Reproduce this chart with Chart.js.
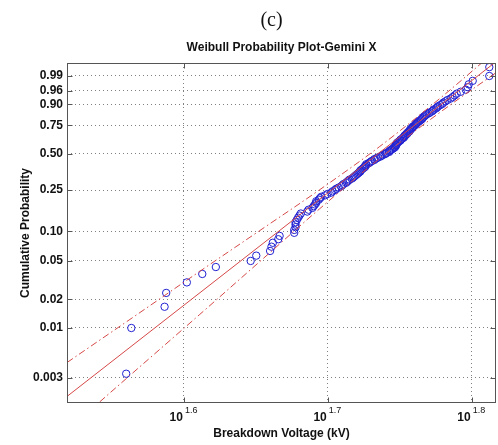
<!DOCTYPE html>
<html>
<head>
<meta charset="utf-8">
<script src="https://cdn.jsdelivr.net/npm/chart.js@4.4.0/dist/chart.umd.min.js"></script>
<style>
  html, body { margin: 0; padding: 0; background: #fff; }
</style>
</head>
<body>
<canvas id="wbl" width="498" height="445"></canvas>
<script>
// Weibull probability plot - breakdown voltages (kV), ranked, with plotting positions
const voltageKV = [
  36.3, 36.6, 38.6, 38.7, 40.0, 41.0, 41.9, 44.3, 44.7, 45.7,
  45.8, 45.9, 46.3, 46.4, 47.5, 47.5, 47.6, 47.6, 47.6, 47.7,
  47.8, 47.9, 48.0, 48.5, 48.6, 48.9, 49.0, 49.1, 49.2, 49.2,
  49.4, 49.5, 49.6, 49.9, 50.1, 50.4, 50.5, 50.7, 50.8, 51.0,
  51.2, 51.3, 51.4, 51.6, 51.7, 51.8, 51.9, 52.1, 52.2, 52.3,
  52.4, 52.5, 52.6, 52.7, 52.8, 52.8, 52.9, 53.0, 53.1, 53.2,
  53.2, 53.3, 53.3, 53.5, 53.6, 53.7, 53.8, 54.0, 54.0, 54.2,
  54.3, 54.5, 54.6, 54.7, 54.9, 55.0, 55.1, 55.3, 55.3, 55.4,
  55.5, 55.6, 55.7, 55.8, 55.8, 55.9, 55.9, 55.9, 56.0, 56.0,
  56.1, 56.2, 56.3, 56.3, 56.4, 56.5, 56.6, 56.6, 56.7, 56.7,
  56.8, 56.9, 56.9, 57.0, 57.1, 57.1, 57.2, 57.2, 57.3, 57.4,
  57.4, 57.5, 57.6, 57.7, 57.7, 57.8, 57.9, 58.0, 58.1, 58.2,
  58.3, 58.3, 58.4, 58.5, 58.6, 58.7, 58.9, 59.0, 59.2, 59.3,
  59.4, 59.6, 59.7, 59.8, 60.0, 60.2, 60.3, 60.5, 60.7, 61.0,
  61.2, 61.4, 61.6, 62.0, 62.5, 62.7, 62.8, 63.2, 64.9, 64.9
];
const cumProb = [
  0.0033, 0.0100, 0.0167, 0.0233, 0.0300, 0.0367, 0.0433, 0.0500, 0.0567, 0.0633,
  0.0700, 0.0767, 0.0833, 0.0900, 0.0967, 0.1033, 0.1100, 0.1167, 0.1233, 0.1300,
  0.1367, 0.1433, 0.1500, 0.1567, 0.1633, 0.1700, 0.1767, 0.1833, 0.1900, 0.1967,
  0.2033, 0.2100, 0.2167, 0.2233, 0.2300, 0.2367, 0.2433, 0.2500, 0.2567, 0.2633,
  0.2700, 0.2767, 0.2833, 0.2900, 0.2967, 0.3033, 0.3100, 0.3167, 0.3233, 0.3300,
  0.3367, 0.3433, 0.3500, 0.3567, 0.3633, 0.3700, 0.3767, 0.3833, 0.3900, 0.3967,
  0.4033, 0.4100, 0.4167, 0.4233, 0.4300, 0.4367, 0.4433, 0.4500, 0.4567, 0.4633,
  0.4700, 0.4767, 0.4833, 0.4900, 0.4967, 0.5033, 0.5100, 0.5167, 0.5233, 0.5300,
  0.5367, 0.5433, 0.5500, 0.5567, 0.5633, 0.5700, 0.5767, 0.5833, 0.5900, 0.5967,
  0.6033, 0.6100, 0.6167, 0.6233, 0.6300, 0.6367, 0.6433, 0.6500, 0.6567, 0.6633,
  0.6700, 0.6767, 0.6833, 0.6900, 0.6967, 0.7033, 0.7100, 0.7167, 0.7233, 0.7300,
  0.7367, 0.7433, 0.7500, 0.7567, 0.7633, 0.7700, 0.7767, 0.7833, 0.7900, 0.7967,
  0.8033, 0.8100, 0.8167, 0.8233, 0.8300, 0.8367, 0.8433, 0.8500, 0.8567, 0.8633,
  0.8700, 0.8767, 0.8833, 0.8900, 0.8967, 0.9033, 0.9100, 0.9167, 0.9233, 0.9300,
  0.9367, 0.9433, 0.9500, 0.9567, 0.9633, 0.9700, 0.9767, 0.9833, 0.9900, 0.9967
];

// fitted line (ends) and confidence bounds
const fitVoltage = [33.02, 65.57];
const fitProb = [0.0019, 0.99848];
const boundVoltage = [33.02, 36.52, 40.84, 44.96, 49.48, 54.47, 59.95, 65.57];
const upperProb = [0.00433, 0.01231, 0.0391, 0.1020, 0.2519, 0.5644, 0.930, 0.99979];
const lowerProb = [0.00083, 0.00317, 0.0139, 0.0494, 0.1671, 0.4627, 0.8491, 0.99301];

// axes
const yTickProb = [0.003, 0.01, 0.02, 0.05, 0.10, 0.25, 0.50, 0.75, 0.90, 0.96, 0.99];
const yTickLabels = ['0.003', '0.01', '0.02', '0.05', '0.10', '0.25', '0.50', '0.75', '0.90', '0.96', '0.99'];
const xTickExp = [1.6, 1.7, 1.8];   // ticks at 10^exp kV
const xRange = [33.02, 65.6];
const yRange = [-6.424, 1.843];     // in ln(-ln(1-p))

const FONT = '"Liberation Sans", Arial, Helvetica, sans-serif';
const RED = '#d64848';
const BLUE = '#2222d2';

// weibull probability transform
function wb(p) { return Math.log(-Math.log(1 - p)); }
function pts(xs, ps) { return xs.map((v, i) => ({ x: v, y: wb(ps[i]) })); }

const decorations = {
  id: 'decorations',
  afterDraw(chart) {
    const { ctx, chartArea: a, scales: { x, y } } = chart;
    ctx.save();
    ctx.strokeStyle = '#555';
    ctx.lineWidth = 1;
    const L = Math.round(a.left) + 0.5, R = Math.round(a.right) - 0.5;
    const T = Math.round(a.top) + 0.5, B = Math.round(a.bottom) - 0.5;
    ctx.strokeRect(L, T, R - L, B - T);

    // tick marks inside the box
    ctx.beginPath();
    xTickExp.forEach(e => {
      const px = Math.round(x.getPixelForValue(Math.pow(10, e))) + 0.5;
      ctx.moveTo(px, B); ctx.lineTo(px, B - 5);
      ctx.moveTo(px, T); ctx.lineTo(px, T + 5);
    });
    yTickProb.forEach(p => {
      const py = Math.round(y.getPixelForValue(wb(p))) + 0.5;
      ctx.moveTo(L, py); ctx.lineTo(L + 5, py);
      ctx.moveTo(R, py); ctx.lineTo(R - 5, py);
    });
    ctx.stroke();

    // x tick labels as 10^exp
    ctx.fillStyle = '#111';
    ctx.textBaseline = 'middle';
    xTickExp.forEach(e => {
      const px = x.getPixelForValue(Math.pow(10, e));
      ctx.font = 'bold 12px ' + FONT;
      ctx.textAlign = 'right';
      ctx.fillText('10', px - 1, a.bottom + 15);
      ctx.font = '9px ' + FONT;
      ctx.textAlign = 'left';
      ctx.fillText(e.toFixed(1), px + 1, a.bottom + 8);
    });

    // titles
    ctx.textAlign = 'center';
    ctx.font = 'bold 12px ' + FONT;
    ctx.fillText('Weibull Probability Plot-Gemini X', (a.left + a.right) / 2, 48);
    ctx.font = '20px "Liberation Serif", "Times New Roman", serif';
    ctx.fillText('(c)', (a.left + a.right) / 2 - 10, 21);
    ctx.restore();
  }
};

const ctx = document.getElementById('wbl').getContext('2d');

new Chart(ctx, {
  type: 'scatter',
  data: {
    datasets: [
      {
        type: 'line',
        label: 'fit',
        data: pts(fitVoltage, fitProb),
        borderColor: RED,
        borderWidth: 1,
        pointRadius: 0,
        fill: false
      },
      {
        type: 'line',
        label: 'upper bound',
        data: pts(boundVoltage, upperProb),
        borderColor: RED,
        borderWidth: 1,
        borderDash: [7, 3, 1.5, 3],
        pointRadius: 0,
        tension: 0.35,
        fill: false
      },
      {
        type: 'line',
        label: 'lower bound',
        data: pts(boundVoltage, lowerProb),
        borderColor: RED,
        borderWidth: 1,
        borderDash: [7, 3, 1.5, 3],
        pointRadius: 0,
        tension: 0.35,
        fill: false
      },
      {
        label: 'data',
        data: pts(voltageKV, cumProb),
        pointStyle: 'circle',
        pointRadius: 3.7,
        pointBackgroundColor: 'rgba(0,0,0,0)',
        pointBorderColor: BLUE,
        pointBorderWidth: 1
      }
    ]
  },
  options: {
    responsive: false,
    devicePixelRatio: 1,
    animation: false,
    layout: { autoPadding: false, padding: { top: 63, right: 2, bottom: 0, left: 0 } },
    plugins: {
      legend: { display: false },
      tooltip: { enabled: false }
    },
    scales: {
      x: {
        type: 'logarithmic',
        min: xRange[0],
        max: xRange[1],
        afterBuildTicks: s => { s.ticks = xTickExp.map(e => ({ value: Math.pow(10, e) })); },
        afterFit: s => { s.height = 42; },
        ticks: { display: false },
        grid: { color: '#808080', lineWidth: 1, drawTicks: false },
        border: { display: false, dash: [1, 3] },
        title: {
          display: true,
          text: 'Breakdown Voltage (kV)',
          color: '#111',
          font: { family: FONT, size: 12, weight: 'bold' },
          padding: { top: 0, bottom: 4 }
        }
      },
      y: {
        type: 'linear',
        min: yRange[0],
        max: yRange[1],
        afterBuildTicks: s => { s.ticks = yTickProb.map(p => ({ value: wb(p) })); },
        afterFit: s => { s.width = 67; },
        ticks: {
          autoSkip: false,
          padding: 4,
          color: '#111',
          font: { family: FONT, size: 12, weight: 'bold' },
          callback: (v, i) => yTickLabels[i]
        },
        grid: { color: '#808080', lineWidth: 1, drawTicks: false },
        border: { display: false, dash: [1, 3] },
        title: {
          display: true,
          text: 'Cumulative Probability',
          color: '#111',
          font: { family: FONT, size: 12, weight: 'bold' },
          padding: { top: 18, bottom: 0 }
        }
      }
    }
  },
  plugins: [decorations]
});
</script>
</body>
</html>
